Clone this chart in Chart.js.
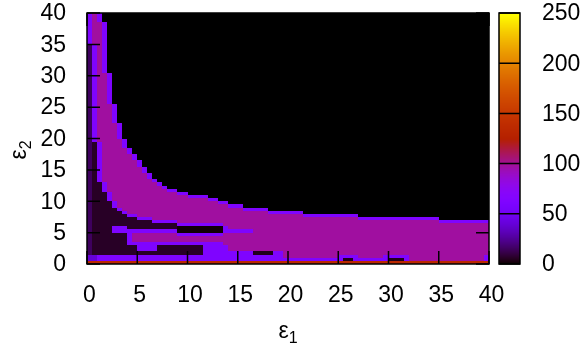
<!DOCTYPE html>
<html>
<head>
<meta charset="utf-8">
<script src="https://cdn.jsdelivr.net/npm/chart.js@4.4.1/dist/chart.umd.min.js"></script>
<style>
  html, body { margin: 0; padding: 0; background: #fff; }
  #wrap { width: 584px; height: 350px; }
</style>
</head>
<body>
<div id="wrap"><canvas id="heatChart" width="584" height="350"></canvas></div>
<script>
// Grid: cells of 0.5 x 0.5 over eps1 in [0,40], eps2 in [0,40]
const CELL = 0.5;
const AXIS_MAX = 40;
const CB_MAX = 250;
const axisTicks = [0, 5, 10, 15, 20, 25, 30, 35, 40];
const cbTicks = [0, 50, 100, 150, 200, 250];

// Levels (colour values)
const BAND_LEVEL = 98;   // magenta body
const EDGE_LEVEL = 62;   // violet rim
const DARK_LEVEL = 6;    // dark purple zone bottom-left
const DARK_COL0_LEVEL = 15;
const GAP_LEVEL = 1;

// Main band, upper edge: [eps1 where step starts, eps2 top]
const bandTopSteps = [[0, 40], [1.5, 38.5], [2, 30.5], [2.5, 25.5], [3, 22.5], [3.5, 20], [4, 18.5],
  [4.5, 17.5], [5, 16.5], [5.5, 15.5], [6, 14.5], [6.5, 13.5], [7, 13], [7.5, 12.5], [8, 12], [9, 11.5],
  [10, 11], [12, 10.5], [13, 10], [14, 9.5], [15.5, 9], [18, 8.5], [21.5, 8], [27, 7.5], [35, 7]];
// Main band, lower edge
const bandBottomSteps = [[0, 35], [0.5, 19.5], [1, 13], [1.5, 11.5], [2, 10], [2.5, 9], [3, 8.5],
  [3.5, 8], [4, 7.5], [5, 7], [6.5, 6.5], [9, 6], [13.5, 0.5]];
// Thin strip under the band (merges into it near eps1 = 13.5)
const stripTopSteps = [[0, 0], [2.5, 6], [4, 5.5], [9, 5], [13.5, 0]];
const stripBottomSteps = [[0, 0], [2.5, 5], [4, 3], [13.5, 0]];

// Small features: [x0, x1, y0, y1, level]
const patches = [
  [0, 40, 0, 0.5, 135],
  [0, 1, 0.5, 1.5, 40],
  [1, 15, 0.5, 1.5, 62],
  [15, 31, 0.5, 1, 62],
  [5, 7, 2, 3.5, 62],
  [11.5, 13.5, 1.5, 3, 62],
  [13.5, 19.5, 1, 2, 62],
  [16.5, 18.5, 1.5, 2, 4],
  [14, 16.5, 5, 5.5, 62],
  [25, 27, 1, 1.5, 62],
  [25.5, 26.5, 0.5, 1, 4],
  [29.5, 31.5, 1, 1.5, 62],
  [30, 31.5, 0.5, 1, 4],
  [31.5, 32, 0.5, 1.5, 62],
  [39.5, 40, 0.5, 1.5, 62]
];

function stepValue(steps, x) {
  let v = steps[0][1];
  steps.forEach(([x0, val]) => { if (x >= x0 - 1e-9) v = val; });
  return v;
}

const N = Math.round(AXIS_MAX / CELL);

function inBand(i, j) {
  const x = i * CELL, y = j * CELL;
  if (y >= stepValue(bandBottomSteps, x) && y < stepValue(bandTopSteps, x)) return true;
  return y >= stepValue(stripBottomSteps, x) && y < stepValue(stripTopSteps, x);
}

function isEdge(i, j) {
  if (i === 0) return true;
  const nb = [[i - 1, j], [i + 1, j], [i, j + 1], [i, j - 1]];
  return nb.some(([a, b]) => a >= 0 && a < N && b >= 1 && b < N && !inBand(a, b));
}

// Build the cells
const cells = [];
for (let i = 0; i < N; i++) {
  for (let j = 0; j < N; j++) {
    const x = i * CELL, y = j * CELL;
    let v;
    if (inBand(i, j)) {
      v = isEdge(i, j) ? EDGE_LEVEL : BAND_LEVEL;
    } else if (y >= stepValue(bandTopSteps, x)) {
      v = 0;
    } else if (x >= 9 && y >= stepValue(stripTopSteps, x)) {
      v = GAP_LEVEL;
    } else {
      v = i === 0 ? DARK_COL0_LEVEL : DARK_LEVEL;
    }
    patches.forEach(([x0, x1, y0, y1, lv]) => {
      if (x >= x0 - 1e-9 && x < x1 - 1e-9 && y >= y0 - 1e-9 && y < y1 - 1e-9) v = lv;
    });
    cells.push({ x: x, y: y, v: v });
  }
}

// gnuplot default palette (rgbformulae 7,5,15)
function paletteColor(v) {
  const g = Math.min(1, Math.max(0, v / CB_MAX));
  const r = Math.sqrt(g), gg = g * g * g, b = Math.max(0, Math.sin(2 * Math.PI * g));
  return `rgb(${Math.round(r * 255)},${Math.round(gg * 255)},${Math.round(b * 255)})`;
}

const FONT = '"Liberation Sans", Arial, sans-serif';
const TICK_LEN = 13;

const heatmapPlugin = {
  id: 'heatmap',
  beforeDatasetsDraw(chart) {
    const { ctx, scales: { x, y } } = chart;
    ctx.save();
    chart.data.datasets[0].data.forEach(c => {
      const l = Math.round(x.getPixelForValue(c.x));
      const r = Math.round(x.getPixelForValue(c.x + CELL));
      const t = Math.round(y.getPixelForValue(c.y + CELL));
      const b = Math.round(y.getPixelForValue(c.y));
      ctx.fillStyle = paletteColor(c.v);
      ctx.fillRect(l, t, r - l, b - t);
    });
    ctx.restore();
  },
  afterDatasetsDraw(chart) {
    const { ctx, chartArea: a, scales: { x, y, cb } } = chart;
    ctx.save();
    ctx.strokeStyle = '#000';
    ctx.lineWidth = 1.5;

    // inward ticks on all four sides
    ctx.beginPath();
    axisTicks.forEach(t => {
      const px = x.getPixelForValue(t);
      ctx.moveTo(px, a.bottom); ctx.lineTo(px, a.bottom - TICK_LEN);
      ctx.moveTo(px, a.top); ctx.lineTo(px, a.top + TICK_LEN);
      const py = y.getPixelForValue(t);
      ctx.moveTo(a.left, py); ctx.lineTo(a.left + TICK_LEN, py);
      ctx.moveTo(a.right, py); ctx.lineTo(a.right - TICK_LEN, py);
    });
    ctx.stroke();
    ctx.strokeRect(a.left, a.top, a.right - a.left, a.bottom - a.top);

    // colour box
    const cbL = a.right + 10, cbW = 21;
    for (let v = 0; v < CB_MAX; v++) {
      const t = Math.floor(cb.getPixelForValue(v + 1));
      const b = Math.ceil(cb.getPixelForValue(v));
      ctx.fillStyle = paletteColor(v + 0.5);
      ctx.fillRect(cbL, t, cbW, b - t);
    }
    ctx.beginPath();
    cbTicks.forEach(t => {
      const py = cb.getPixelForValue(t);
      ctx.moveTo(cbL, py); ctx.lineTo(cbL + cbW, py);
    });
    ctx.stroke();
    ctx.strokeRect(cbL, cb.getPixelForValue(CB_MAX), cbW, cb.getPixelForValue(0) - cb.getPixelForValue(CB_MAX));

    // axis titles with subscripts
    ctx.fillStyle = '#000';
    ctx.textBaseline = 'alphabetic';
    ctx.textAlign = 'left';
    ctx.font = `23px ${FONT}`;
    const wE = ctx.measureText('ε').width;
    ctx.font = `16px ${FONT}`;
    const wS = ctx.measureText('1').width;
    const xMid = (a.left + a.right) / 2;
    const sx = xMid - (wE + wS) / 2;
    ctx.font = `23px ${FONT}`;
    ctx.fillText('ε', sx, 338);
    ctx.font = `16px ${FONT}`;
    ctx.fillText('1', sx + wE, 343);

    ctx.translate(26, 150);
    ctx.rotate(-Math.PI / 2);
    const sy = -(wE + wS) / 2;
    ctx.font = `23px ${FONT}`;
    ctx.fillText('ε', sy, 0);
    ctx.font = `16px ${FONT}`;
    ctx.fillText('2', sy + wE, 5);
    ctx.restore();
  }
};

Chart.defaults.font.family = FONT;
Chart.defaults.font.size = 23;
Chart.defaults.color = '#000';

// keep tick-label padding from pushing the plot box
const noVerticalPadding = w => s => { s.width = w; s.paddingTop = 0; s.paddingBottom = 0; };

new Chart(document.getElementById('heatChart'), {
  type: 'scatter',
  data: { datasets: [{ label: 'map', data: cells, pointRadius: 0 }] },
  options: {
    responsive: false,
    animation: false,
    devicePixelRatio: 1,
    layout: { padding: { top: 13, left: 0, right: 0, bottom: 0 } },
    plugins: { legend: { display: false }, tooltip: { enabled: false } },
    scales: {
      x: {
        type: 'linear', min: 0, max: AXIS_MAX,
        ticks: { stepSize: 5, padding: 18, maxRotation: 0, autoSkip: false, labelOffset: 2.5 },
        grid: { display: false, drawTicks: false },
        border: { display: false },
        afterFit: s => { s.height = 86; s.paddingLeft = 0; s.paddingRight = 0; }
      },
      y: {
        type: 'linear', min: 0, max: AXIS_MAX,
        ticks: { stepSize: 5, padding: 21, autoSkip: false, labelOffset: 1 },
        grid: { display: false, drawTicks: false },
        border: { display: false },
        afterFit: noVerticalPadding(87)
      },
      cb: {
        type: 'linear', position: 'right', min: 0, max: CB_MAX,
        ticks: { stepSize: 50, padding: 53, autoSkip: false, labelOffset: 1 },
        grid: { display: false, drawTicks: false },
        border: { display: false },
        afterFit: noVerticalPadding(95)
      }
    }
  },
  plugins: [heatmapPlugin]
});
</script>
</body>
</html>
